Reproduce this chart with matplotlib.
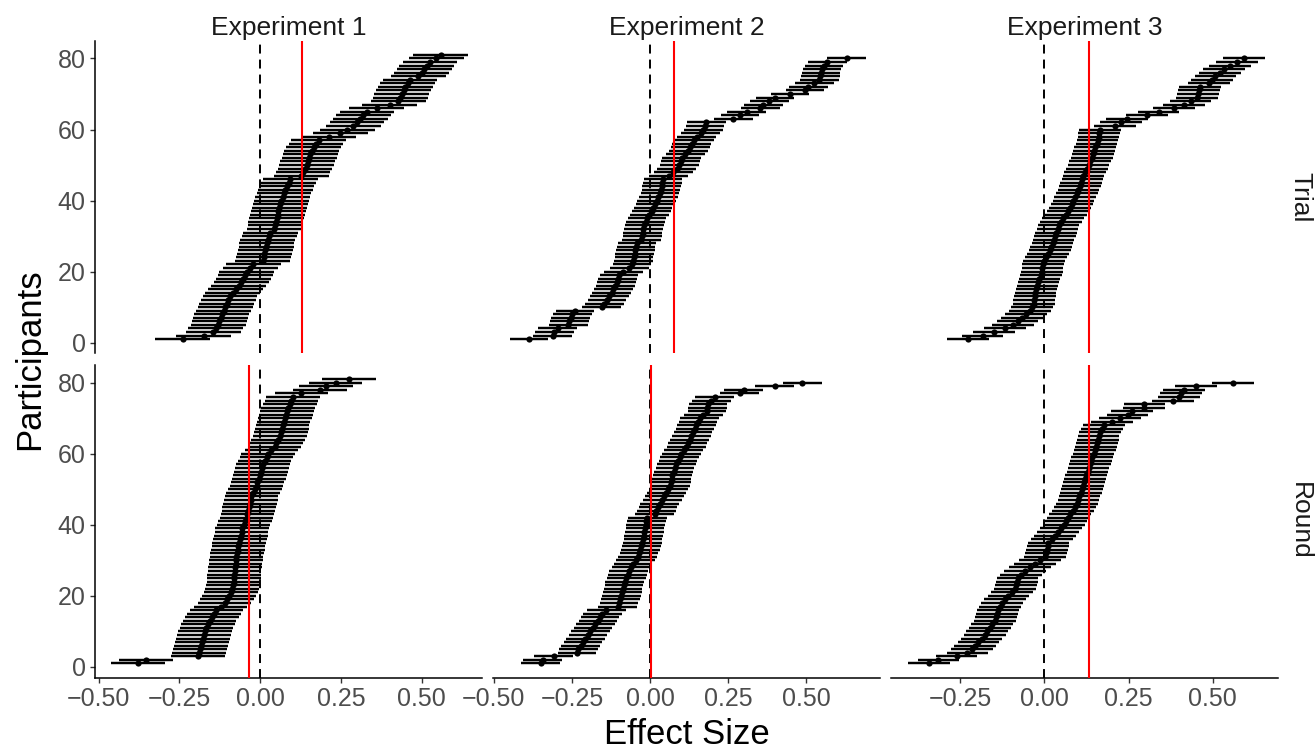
import matplotlib
matplotlib.use("Agg")
import matplotlib.pyplot as plt
from matplotlib.ticker import FixedLocator, FuncFormatter
import numpy as np

plt.rcParams["font.family"] = ["Liberation Sans", "DejaVu Sans"]

experiments = ["Experiment 1", "Experiment 2", "Experiment 3"]
conditions = ["Trial", "Round"]

# sorted participant effect sizes
trial_exp1 = [-0.240, -0.175, -0.145, -0.137, -0.130, -0.126, -0.122, -0.118, -0.113, -0.108,
              -0.103, -0.098, -0.093, -0.085, -0.076, -0.066, -0.058, -0.052, -0.046, -0.041,
              -0.030, -0.021, 0.008, 0.011, 0.013, 0.016, 0.019, 0.021, 0.024, 0.028,
              0.031, 0.044, 0.047, 0.049, 0.052, 0.054, 0.057, 0.060, 0.062, 0.066,
              0.070, 0.074, 0.078, 0.083, 0.088, 0.094, 0.128, 0.133, 0.139, 0.144,
              0.148, 0.152, 0.156, 0.160, 0.166, 0.173, 0.181, 0.212, 0.248, 0.270,
              0.289, 0.300, 0.310, 0.320, 0.331, 0.361, 0.402, 0.428, 0.434, 0.439,
              0.444, 0.450, 0.457, 0.464, 0.490, 0.500, 0.508, 0.516, 0.526, 0.545,
              0.559]
trial_exp2 = [-0.388, -0.312, -0.306, -0.296, -0.262, -0.258, -0.254, -0.249, -0.240, -0.155,
              -0.146, -0.138, -0.130, -0.123, -0.117, -0.111, -0.107, -0.104, -0.099, -0.085,
              -0.066, -0.058, -0.053, -0.051, -0.049, -0.047, -0.045, -0.042, -0.028, -0.025,
              -0.023, -0.021, -0.018, -0.014, -0.010, -0.002, 0.005, 0.010, 0.016, 0.021,
              0.027, 0.032, 0.035, 0.037, 0.039, 0.042, 0.060, 0.075, 0.086, 0.094,
              0.098, 0.102, 0.113, 0.123, 0.129, 0.134, 0.142, 0.150, 0.162, 0.171,
              0.176, 0.180, 0.267, 0.288, 0.310, 0.353, 0.363, 0.382, 0.401, 0.449,
              0.497, 0.507, 0.527, 0.543, 0.546, 0.548, 0.551, 0.558, 0.568, 0.630]
trial_exp3 = [-0.228, -0.184, -0.150, -0.117, -0.094, -0.080, -0.067, -0.055, -0.043, -0.036,
              -0.032, -0.030, -0.029, -0.027, -0.024, -0.021, -0.018, -0.015, -0.011, -0.008,
              -0.006, -0.004, -0.002, 0.005, 0.011, 0.017, 0.020, 0.024, 0.027, 0.031,
              0.035, 0.039, 0.042, 0.049, 0.056, 0.063, 0.070, 0.076, 0.081, 0.086,
              0.091, 0.096, 0.101, 0.106, 0.109, 0.113, 0.116, 0.121, 0.126, 0.131,
              0.136, 0.141, 0.144, 0.148, 0.151, 0.155, 0.158, 0.161, 0.163, 0.166,
              0.210, 0.228, 0.245, 0.305, 0.339, 0.384, 0.414, 0.434, 0.453, 0.456,
              0.460, 0.463, 0.488, 0.498, 0.508, 0.521, 0.533, 0.552, 0.572, 0.592]
round_exp1 = [-0.378, -0.354, -0.193, -0.189, -0.186, -0.183, -0.180, -0.177, -0.174, -0.171,
              -0.166, -0.161, -0.156, -0.149, -0.142, -0.135, -0.122, -0.110, -0.103, -0.096,
              -0.090, -0.087, -0.084, -0.082, -0.081, -0.080, -0.079, -0.078, -0.076, -0.075,
              -0.073, -0.071, -0.069, -0.067, -0.065, -0.062, -0.060, -0.057, -0.055, -0.051,
              -0.046, -0.042, -0.039, -0.036, -0.034, -0.032, -0.029, -0.027, -0.022, -0.016,
              -0.011, -0.008, -0.004, -0.001, 0.002, 0.006, 0.009, 0.014, 0.020, 0.025,
              0.035, 0.045, 0.050, 0.056, 0.061, 0.064, 0.067, 0.070, 0.073, 0.077,
              0.080, 0.084, 0.087, 0.092, 0.097, 0.102, 0.128, 0.185, 0.205, 0.234,
              0.276]
round_exp2 = [-0.350, -0.344, -0.309, -0.234, -0.230, -0.222, -0.215, -0.207, -0.199, -0.191,
              -0.183, -0.175, -0.167, -0.160, -0.153, -0.140, -0.104, -0.099, -0.095, -0.092,
              -0.089, -0.086, -0.083, -0.081, -0.076, -0.072, -0.068, -0.061, -0.054, -0.046,
              -0.040, -0.035, -0.031, -0.028, -0.025, -0.022, -0.020, -0.018, -0.016, -0.014,
              -0.012, -0.009, 0.015, 0.020, 0.026, 0.031, 0.039, 0.046, 0.052, 0.059,
              0.065, 0.068, 0.070, 0.072, 0.076, 0.080, 0.084, 0.090, 0.095, 0.100,
              0.108, 0.116, 0.121, 0.127, 0.132, 0.138, 0.144, 0.149, 0.154, 0.159,
              0.171, 0.183, 0.184, 0.186, 0.196, 0.207, 0.287, 0.300, 0.400, 0.488]
round_exp3 = [-0.343, -0.315, -0.261, -0.229, -0.216, -0.206, -0.196, -0.187, -0.177, -0.170,
              -0.162, -0.155, -0.147, -0.143, -0.140, -0.137, -0.132, -0.127, -0.117, -0.107,
              -0.097, -0.087, -0.084, -0.082, -0.080, -0.069, -0.058, -0.043, -0.028, -0.013,
              0.002, 0.005, 0.007, 0.010, 0.012, 0.022, 0.032, 0.040, 0.049, 0.057,
              0.063, 0.070, 0.076, 0.084, 0.091, 0.096, 0.101, 0.104, 0.108, 0.111,
              0.114, 0.118, 0.121, 0.124, 0.128, 0.131, 0.135, 0.139, 0.142, 0.146,
              0.150, 0.154, 0.156, 0.159, 0.161, 0.166, 0.171, 0.176, 0.200, 0.225,
              0.247, 0.260, 0.295, 0.297, 0.382, 0.399, 0.406, 0.414, 0.451, 0.561]

# confidence-interval half widths and group means (red lines)
trial_halfwidth = [0.085, 0.062, 0.062]
round_halfwidth = [0.083, 0.062, 0.062]
trial_mean = [0.130, 0.076, 0.133]
round_mean = [-0.033, 0.003, 0.132]

x_ticks = [[-0.50, -0.25, 0.00, 0.25, 0.50],
           [-0.50, -0.25, 0.00, 0.25, 0.50],
           [-0.25, 0.00, 0.25, 0.50]]
x_limits = [(-0.511, 0.687), (-0.503, 0.737), (-0.456, 0.694)]
y_ticks = [0, 20, 40, 60, 80]

panels = {
    "Trial": (trial_exp1, trial_exp2, trial_exp3, trial_halfwidth, trial_mean),
    "Round": (round_exp1, round_exp2, round_exp3, round_halfwidth, round_mean),
}

W, H = 1316, 751
fig = plt.figure(figsize=(W / 100, H / 100), dpi=100)
fig.patch.set_facecolor("white")

col_left = [95, 493, 891]
col_w = 387
row_top = [40.7, 365.0]
row_h = 312.6

fmt = FuncFormatter(lambda v, _: f"{v:.2f}".replace("-", "\u2212") if abs(v) > 1e-9 else "0.00")

for r, cond in enumerate(conditions):
    e1, e2, e3, hws, means = panels[cond]
    for c, vals in enumerate([e1, e2, e3]):
        ax = fig.add_axes([col_left[c] / W, 1 - (row_top[r] + row_h) / H, col_w / W, row_h / H])
        v = np.array(vals)
        y = np.arange(1, len(v) + 1)
        ax.axvline(0, color="black", lw=1.4, dashes=(4.6, 3.1), zorder=1)
        ax.hlines(y, v - hws[c], v + hws[c], color="black", lw=1.75, zorder=2)
        ax.scatter(v, y, s=20, color="black", linewidths=0, zorder=3)
        ax.axvline(means[c], color="red", lw=1.5, zorder=4)

        ax.set_xlim(*x_limits[c])
        ax.set_ylim(-3, 85)
        for s in ["top", "right"]:
            ax.spines[s].set_visible(False)
        ax.spines["left"].set_linewidth(1.1)
        ax.spines["bottom"].set_linewidth(1.1)
        ax.tick_params(length=3.6, width=1.0, color="#333333", labelcolor="#4D4D4D",
                       labelsize=18, pad=3)
        ax.yaxis.set_major_locator(FixedLocator(y_ticks))
        ax.xaxis.set_major_locator(FixedLocator(x_ticks[c]))
        ax.xaxis.set_major_formatter(fmt)
        if c > 0:
            ax.spines["left"].set_visible(False)
            ax.tick_params(axis="y", left=False, labelleft=False)
        if r == 0:
            ax.spines["bottom"].set_visible(False)
            ax.tick_params(axis="x", bottom=False, labelbottom=False)
            fig.text((col_left[c] + col_w / 2) / W, 1 - 35 / H, experiments[c],
                     ha="center", va="baseline", fontsize=19, color="#1A1A1A")
        if c == 2:
            fig.text(1300 / W, 1 - (row_top[r] + row_h / 2) / H, cond, rotation=270,
                     ha="center", va="center", fontsize=19, color="#1A1A1A")

fig.text(30 / W, 1 - 359 / H, "Participants", rotation=90, ha="center", va="center",
         fontsize=25, color="black")
fig.text((col_left[0] + col_left[2] + col_w) / 2 / W, 1 - 735 / H, "Effect Size",
         ha="center", va="center", fontsize=25, color="black")

fig.savefig("out.png", dpi=100, facecolor="white")
